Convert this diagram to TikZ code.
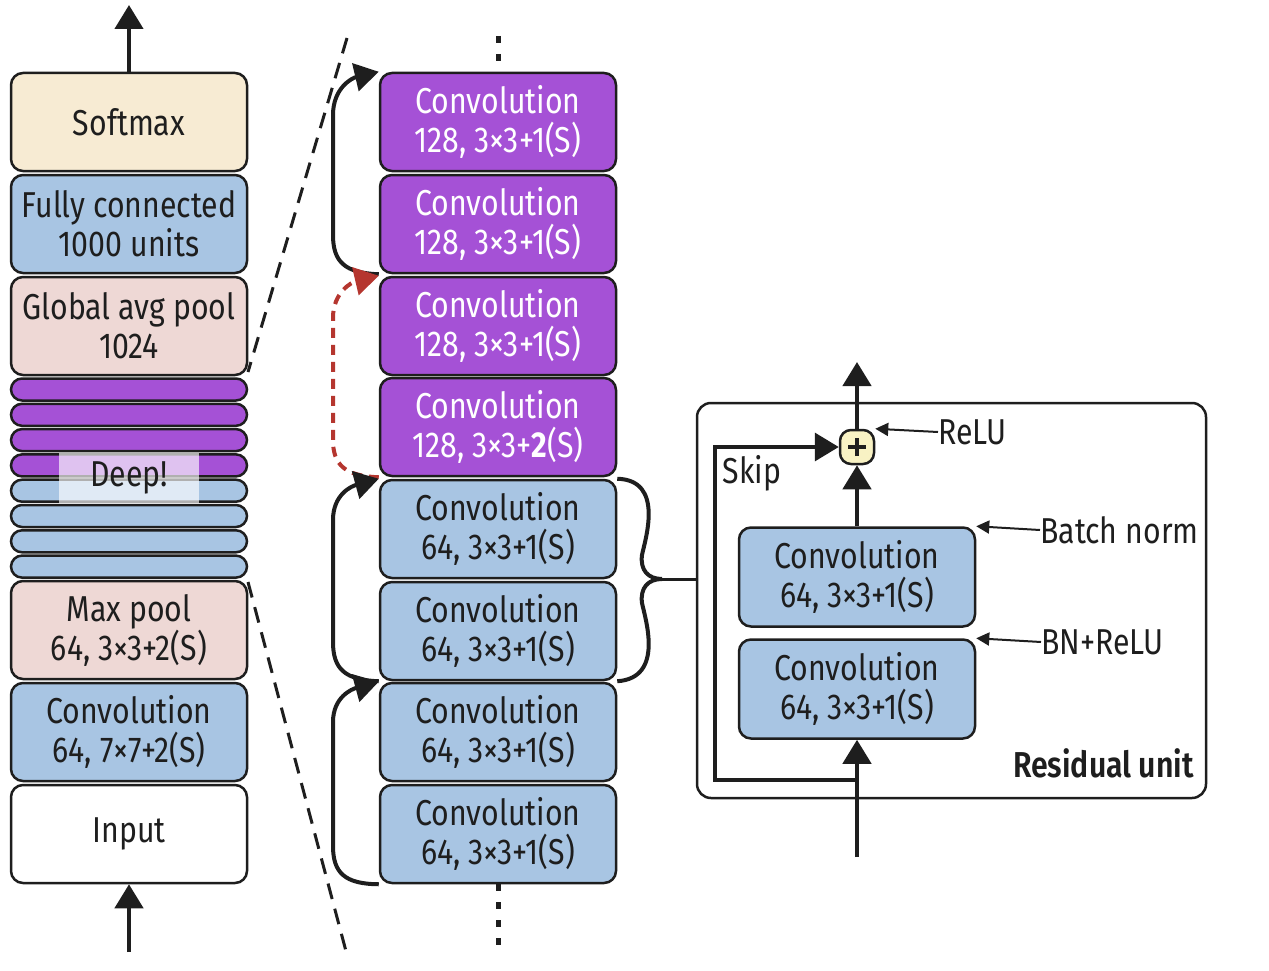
\documentclass[tikz,border=0pt]{standalone}
\usepackage{fontspec}
\setmainfont{Fira Sans}[FakeStretch=0.84]
\newfontfamily\semib{Fira Sans SemiBold}[FakeStretch=0.84]
\usetikzlibrary{arrows.meta}
\definecolor{cream}{HTML}{F7EBD3}
\definecolor{lblue}{HTML}{A8C5E3}
\definecolor{lpink}{HTML}{EED8D5}
\definecolor{purp}{HTML}{A551D6}
\definecolor{plusy}{HTML}{F8F2C4}
\definecolor{redd}{HTML}{B5362F}
\definecolor{ink}{HTML}{1E1E1E}
\begin{document}
\begin{tikzpicture}[x=1pt,y=-1pt,
  lay/.style={draw=ink, line width=2.5pt, rounded corners=12pt, minimum width=236pt, minimum height=98pt, align=center, inner sep=0pt, text=ink, font=\fontsize{36}{39}\selectfont},
  pl/.style={lay, fill=purp, text=white},
  bl/.style={lay, fill=lblue},
  stripe/.style={draw=ink, line width=2.5pt, rounded corners=11pt, minimum width=236pt, minimum height=22pt, inner sep=0pt},
  lbl/.style={text=ink, inner sep=0pt, font=\fontsize{36}{39}\selectfont},
  arr/.style={draw=ink, line width=4.5pt, -{Triangle[length=24pt,width=28pt]}},
  sarr/.style={draw=ink, line width=2pt, -{Triangle[length=13pt,width=13pt]}},
  dline/.style={draw=ink, line width=3pt, dash pattern=on 16pt off 10pt},
  dotl/.style={draw=ink, line width=5pt, dash pattern=on 7pt off 11pt}
]
\useasboundingbox (0,0) rectangle (1269,971);

% ---------- left column ----------
\node[lay, fill=cream] (soft) at (129,122) {Softmax};
\node[bl] (fc) at (129,224) {Fully connected\\1000 units};
\node[lay, fill=lpink] (gap) at (129,326) {Global avg pool\\1024};
\foreach \i in {0,...,3} {
  \node[stripe, fill=purp] (s\i) at (129,{389.5+25.3*\i}) {};
}
\foreach \i in {4,...,7} {
  \node[stripe, fill=lblue] (s\i) at (129,{389.5+25.3*\i}) {};
}
\node[lbl, fill=white, fill opacity=0.65, text opacity=1, minimum width=140pt, minimum height=50pt] (deep) at (129,478) {Deep!};
\node[lay, fill=lpink] (mp) at (129,630) {Max pool\\64, 3×3+2(S)};
\node[bl] (c7) at (129,732) {Convolution\\64, 7×7+2(S)};
\node[lay, fill=white] (inp) at (129,834) {Input};

\coordinate (topout) at (129,5);
\coordinate (botin) at (129,952);
\draw[arr] (soft.north) -- (topout);
\draw[arr] (botin) -- (inp.south);

% ---------- zoom lines ----------
\coordinate (d1) at (347,38);
\coordinate (d2) at (248,372);
\coordinate (d3) at (248,582);
\coordinate (d4) at (347,955);
\draw[dline] (d1) -- (d2);
\draw[dline] (d3) -- (d4);

% ---------- middle column ----------
\node[pl] (m1) at (498,122) {Convolution\\128, 3×3+1(S)};
\node[pl] (m2) at (498,224) {Convolution\\128, 3×3+1(S)};
\node[pl] (m3) at (498,326) {Convolution\\128, 3×3+1(S)};
\node[pl] (m4) at (498,427) {Convolution\\128, 3×3+\textbf{2}(S)};
\node[bl] (m5) at (498,529) {Convolution\\64, 3×3+1(S)};
\node[bl] (m6) at (498,631) {Convolution\\64, 3×3+1(S)};
\node[bl] (m7) at (498,732) {Convolution\\64, 3×3+1(S)};
\node[bl] (m8) at (498,834) {Convolution\\64, 3×3+1(S)};

\coordinate (dt1) at (498,36);
\coordinate (dt2) at (498,955);
\draw[dotl] (dt1) -- (m1.north);
\draw[dotl] (m8.south) -- (dt2);

% skip arcs
\draw[arr, line width=4pt] (m2.south west) .. controls (345,273) and (333,262) .. (333,235) -- (333,115) .. controls (333,88) and (352,78) .. (m1.north west);
\draw[arr, line width=4pt, draw=redd, dash pattern=on 10pt off 7pt, -{Triangle[length=24pt,width=28pt,fill=redd]}] (m4.south west) .. controls (345,476) and (333,465) .. (333,440) -- (333,318) .. controls (333,292) and (352,282) .. (m3.north west);
\draw[arr, line width=4pt] (m6.south west) .. controls (345,680) and (333,669) .. (333,642) -- (333,520) .. controls (333,494) and (352,486) .. (m5.north west);
\draw[arr, line width=4pt] (m8.south west) .. controls (345,884) and (333,873) .. (333,846) -- (333,722) .. controls (333,697) and (352,689) .. (m7.north west);

% brace
\draw[draw=ink, line width=4pt] (m5.north east) .. controls (665,480) and (645,540) .. (642,555) .. controls (640,570) and (648,579) .. (662,579);
\draw[draw=ink, line width=4pt] (m6.south east) .. controls (665,678) and (645,618) .. (642,603) .. controls (640,588) and (648,579) .. (662,579);
\coordinate (tip) at (655,579);

% ---------- residual unit ----------
\node[draw=ink, line width=2.5pt, rounded corners=14pt, minimum width=509pt, minimum height=395pt, inner sep=0pt] (ru) at (951.5,600.5) {};
\draw[draw=ink, line width=3pt] (tip) -- (tip -| ru.west);

\node[bl, minimum height=99pt] (ca) at (857,577) {Convolution\\64, 3×3+1(S)};
\node[bl, minimum height=99pt] (cb) at (857,689) {Convolution\\64, 3×3+1(S)};
\node[draw=ink, line width=2.5pt, fill=plusy, rounded corners=11pt, minimum width=34pt, minimum height=34pt, inner sep=0pt] (plus) at (857,447) {};
\draw[draw=ink, line width=4pt] ([xshift=-9pt]plus.center) -- ([xshift=9pt]plus.center);
\draw[draw=ink, line width=4pt] ([yshift=-9pt]plus.center) -- ([yshift=9pt]plus.center);

\coordinate (rin) at (857,857);
\coordinate (rout) at (857,362);
\coordinate (sk0) at (857,780);
\coordinate (skc) at (715,447);
\draw[arr] (rin) -- (cb.south);
\draw[arr, line width=3.5pt] (sk0) -| (skc) -- (plus.west);
\draw[arr] (ca.north) -- (plus.south);
\draw[arr] (plus.north) -- (rout);

\node[lbl, anchor=west] (relu) at (938,432) {ReLU};
\node[lbl, anchor=west] (bn) at (1040,530) {Batch norm};
\node[lbl, anchor=west] (bnr) at (1041,642) {BN+ReLU};
\draw[sarr] (relu.west) -- (plus.north east);
\draw[sarr] (bn.west) -- (ca.north east);
\draw[sarr] (bnr.west) -- (cb.north east);

\node[lbl] (skip) at (752,473) {Skip};
\node[lbl, anchor=east, font=\fontsize{36}{39}\semib] (rul) at (1194,763) {Residual unit};
\end{tikzpicture}
\end{document}
